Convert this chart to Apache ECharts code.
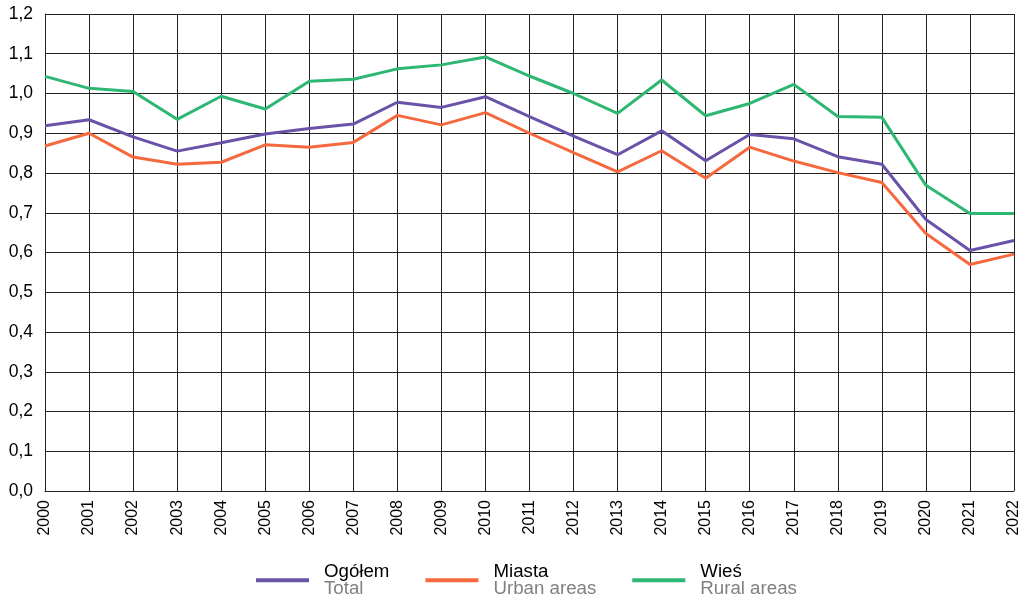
<!DOCTYPE html>
<html>
<head>
<meta charset="utf-8">
<script src="https://cdn.jsdelivr.net/npm/echarts@6/dist/echarts.min.js"></script>
<style>html,body{margin:0;padding:0;background:#fff}#c{width:1022px;height:598px}</style>
</head>
<body>
<div id="c"></div>
<script>
const years = ['2000','2001','2002','2003','2004','2005','2006','2007','2008','2009','2010','2011','2012','2013','2014','2015','2016','2017','2018','2019','2020','2021','2022'];
const total = [0.919,0.934,0.891,0.855,0.876,0.898,0.912,0.923,0.978,0.965,0.992,0.942,0.893,0.846,0.906,0.831,0.897,0.886,0.841,0.822,0.683,0.605,0.630];
const urban = [0.868,0.900,0.840,0.822,0.827,0.871,0.865,0.877,0.945,0.921,0.952,0.900,0.851,0.803,0.856,0.787,0.865,0.830,0.801,0.776,0.648,0.570,0.596];
const rural = [1.043,1.013,1.005,0.935,0.993,0.961,1.031,1.036,1.062,1.072,1.092,1.044,1.000,0.950,1.034,0.944,0.975,1.023,0.942,0.940,0.769,0.698,0.698];
const names = [['Ogółem','Total'],['Miasta','Urban areas'],['Wieś','Rural areas']];
const colors = ['#6a52a8','#f4693e','#2db772'];

const chart = echarts.init(document.getElementById('c'));
const seriesData = [total, urban, rural];
chart.setOption({
  animation: false,
  grid: {left: 45, right: 6, top: 14, bottom: 107, containLabel: false},
  legend: {
    top: 562,
    left: 256,
    padding: 0,
    itemWidth: 53,
    itemHeight: 4,
    itemGap: 36,
    icon: 'rect',
    data: names.map(n => n[0]),
    formatter: function (name) {
      const n = names.find(x => x[0] === name);
      return '{a|' + n[0] + '}\n{b|' + n[1] + '}';
    },
    textStyle: {
      rich: {
        a: {fontFamily: 'Liberation Sans, Arial', fontSize: 18.7, color: '#000', lineHeight: 17.5, padding: [0, 0, 0, 10]},
        b: {fontFamily: 'Liberation Sans, Arial', fontSize: 18.7, color: '#808080', lineHeight: 17.5, padding: [0, 0, 0, 10]}
      }
    }
  },
  xAxis: {
    type: 'category',
    data: years,
    boundaryGap: false,
    axisLine: {show: true, lineStyle: {color: '#222', width: 1}},
    axisTick: {show: false},
    splitLine: {show: true, lineStyle: {color: '#222', width: 1}},
    axisLabel: {rotate: 90, interval: 0, color: '#000', fontSize: 16, fontFamily: 'Liberation Sans, Arial', margin: 9}
  },
  yAxis: {
    type: 'value',
    min: 0, max: 1.2, interval: 0.1,
    axisLine: {show: true, lineStyle: {color: '#222', width: 1}},
    axisTick: {show: false},
    splitLine: {show: true, lineStyle: {color: '#222', width: 1}},
    axisLabel: {color: '#000', fontSize: 17.5, fontFamily: 'Liberation Sans, Arial', margin: 12,
      formatter: v => v.toFixed(1).replace('.', ',')}
  },
  series: seriesData.map((d, i) => ({
    name: names[i][0],
    type: 'line',
    data: d,
    symbol: 'none',
    color: colors[i],
    lineStyle: {width: 3, color: colors[i]},
    z: 3
  }))
});
</script>
</body>
</html>
